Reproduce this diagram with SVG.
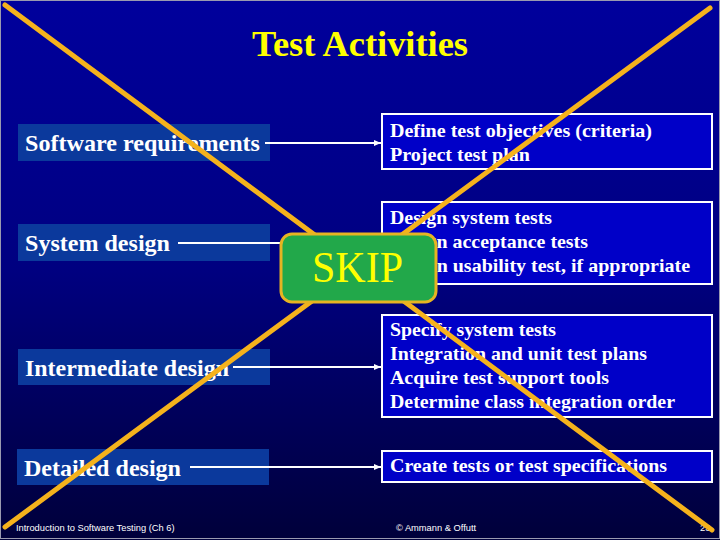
<svg xmlns="http://www.w3.org/2000/svg" width="720" height="540" viewBox="0 0 720 540">
<defs>
<linearGradient id="bg" x1="0" y1="0" x2="0" y2="1">
<stop offset="0" stop-color="#00009c"/>
<stop offset="0.5" stop-color="#000080"/>
<stop offset="1" stop-color="#00003a"/>
</linearGradient>
<marker id="arr" markerWidth="8" markerHeight="8" refX="7" refY="4" orient="auto" markerUnits="userSpaceOnUse">
<path d="M0,1 L7,4 L0,7 Z" fill="#ffffff"/>
</marker>
<style>
.lbl{fill:#0b399c}
.lt{font-family:"Liberation Serif","Times New Roman",serif;font-weight:bold;font-size:23px;fill:#ffffff}
.box{fill:#0000c8;stroke:#ffffff;stroke-width:2}
.bt{font-family:"Liberation Serif","Times New Roman",serif;font-weight:bold;font-size:19px;fill:#ffffff}
.conn{stroke:#ffffff;stroke-width:2;fill:none}
.foot{font-family:"Liberation Sans",Arial,sans-serif;font-size:9.3px;fill:#ffffff}
.x{stroke:#f5b21c;stroke-width:5;stroke-linecap:round}
</style>
</defs>
<rect x="0" y="0" width="720" height="540" fill="url(#bg)"/>
<rect x="0.5" y="0.5" width="719" height="538" fill="none" stroke="#9a9ab0" stroke-width="1"/>
<text x="252" y="56" textLength="216" lengthAdjust="spacingAndGlyphs" font-family="'Liberation Serif','Times New Roman',serif" font-weight="bold" font-size="35" fill="#ffff00">Test Activities</text>

<g id="n-software-requirements">
<rect class="lbl" x="18" y="124" width="252" height="37"/>
<text class="lt" x="25" y="151" textLength="235" lengthAdjust="spacingAndGlyphs">Software requirements</text>
</g>
<g id="n-system-design">
<rect class="lbl" x="18" y="224" width="252" height="37"/>
<text class="lt" x="25" y="251" textLength="145" lengthAdjust="spacingAndGlyphs">System design</text>
</g>
<g id="n-intermediate-design">
<rect class="lbl" x="18" y="349" width="252" height="36"/>
<text class="lt" x="25" y="376" textLength="204" lengthAdjust="spacingAndGlyphs">Intermediate design</text>
</g>
<g id="n-detailed-design">
<rect class="lbl" x="17" y="449" width="252" height="36"/>
<text class="lt" x="24" y="476" textLength="157" lengthAdjust="spacingAndGlyphs">Detailed design</text>
</g>

<g id="n-objectives">
<rect class="box" x="382" y="114" width="330" height="55"/>
<text class="bt" x="390" y="137" textLength="262" lengthAdjust="spacingAndGlyphs">Define test objectives (criteria)</text>
<text class="bt" x="390" y="161" textLength="140" lengthAdjust="spacingAndGlyphs">Project test plan</text>
</g>
<g id="n-system-tests">
<rect class="box" x="382" y="202" width="330" height="82"/>
<text class="bt" x="390" y="224" textLength="162" lengthAdjust="spacingAndGlyphs">Design system tests</text>
<text class="bt" x="390" y="248" textLength="198" lengthAdjust="spacingAndGlyphs">Design acceptance tests</text>
<text class="bt" x="390" y="272" textLength="300" lengthAdjust="spacingAndGlyphs">Design usability test, if appropriate</text>
</g>
<g id="n-specify">
<rect class="box" x="382" y="315" width="330" height="102"/>
<text class="bt" x="390" y="336" textLength="166" lengthAdjust="spacingAndGlyphs">Specify system tests</text>
<text class="bt" x="390" y="360" textLength="257" lengthAdjust="spacingAndGlyphs">Integration and unit test plans</text>
<text class="bt" x="390" y="384" textLength="219" lengthAdjust="spacingAndGlyphs">Acquire test support tools</text>
<text class="bt" x="390" y="408" textLength="285" lengthAdjust="spacingAndGlyphs">Determine class integration order</text>
</g>
<g id="n-create">
<rect class="box" x="382" y="451" width="330" height="31"/>
<text class="bt" x="390" y="472" textLength="277" lengthAdjust="spacingAndGlyphs">Create tests or test specifications</text>
</g>

<g id="connectors">
<line class="conn" x1="265" y1="143" x2="381" y2="143" marker-end="url(#arr)"/>
<line class="conn" x1="178" y1="243" x2="381" y2="243" marker-end="url(#arr)"/>
<line class="conn" x1="233" y1="367" x2="381" y2="367" marker-end="url(#arr)"/>
<line class="conn" x1="190" y1="467" x2="381" y2="467" marker-end="url(#arr)"/>
</g>

<g id="footer">
<text class="foot" x="16" y="531">Introduction to Software Testing  (Ch 6)</text>
<text class="foot" x="396" y="531">© Ammann &amp; Offutt</text>
<text class="foot" x="700" y="531">23</text>
</g>

<g id="cross">
<line class="x" x1="5" y1="5" x2="712" y2="530"/>
<line class="x" x1="710" y1="8" x2="5" y2="527"/>
</g>

<g id="n-skip">
<rect x="281" y="234" width="155" height="68" rx="11" ry="11" fill="#22a84a" stroke="#e6b422" stroke-width="3"/>
<text x="312" y="282" textLength="91" lengthAdjust="spacingAndGlyphs" font-family="'Liberation Serif','Times New Roman',serif" font-size="44" fill="#ffff00">SKIP</text>
</g>
</svg>
